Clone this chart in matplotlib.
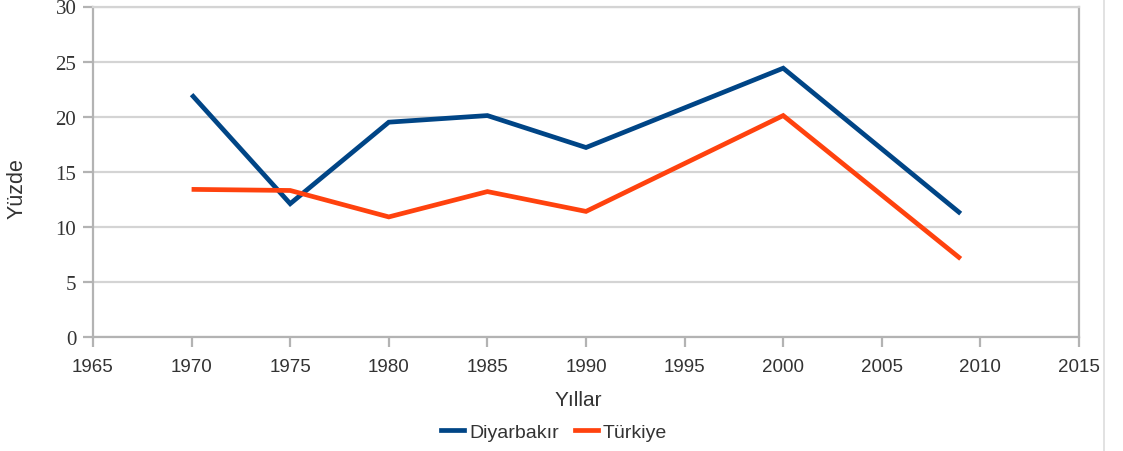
import numpy as np
import matplotlib
matplotlib.use('Agg')
import matplotlib.pyplot as plt
from matplotlib.lines import Line2D

years_diy = [1970, 1975, 1980, 1985, 1990, 2000, 2009]
diyarbakir = [22.0, 12.1, 19.5, 20.1, 17.2, 24.4, 11.2]
years_tr = [1970, 1975, 1980, 1985, 1990, 2000, 2009]
turkiye = [13.4, 13.3, 10.9, 13.2, 11.4, 20.1, 7.1]

x_ticks = list(range(1965, 2016, 5))
y_ticks = list(range(0, 31, 5))

BLUE = '#004586'
ORANGE = '#ff420e'
GRID = '#d4d4d4'
AXIS = '#b3b3b3'
TEXT = '#333333'

fig = plt.figure(figsize=(11.23, 4.52), dpi=100)
ax = fig.add_axes([93/1123, 1 - 338/452, (1079 - 93)/1123, (338 - 7.5)/452])

ax.plot(years_diy, diyarbakir, color=BLUE, lw=3.4, label='Diyarbakır',
        solid_joinstyle='miter', solid_capstyle='butt')
ax.plot(years_tr, turkiye, color=ORANGE, lw=3.4, label='Türkiye',
        solid_joinstyle='miter', solid_capstyle='butt')

ax.set_xlim(1965, 2015)
ax.set_ylim(0, 30)
ax.set_xticks(x_ticks)
ax.set_yticks(y_ticks)
ax.yaxis.grid(True, color=GRID, lw=1.6)
ax.set_axisbelow(True)

for s in ax.spines.values():
    s.set_color(AXIS)
    s.set_linewidth(1.6)
ax.spines['top'].set_color(GRID)

ax.tick_params(axis='both', color=AXIS, width=1.6, length=7, direction='out')
ax.tick_params(axis='x', labelsize=13.5, labelcolor=TEXT, pad=8)
ax.tick_params(axis='y', labelsize=15, labelcolor=TEXT, pad=5)
for lab in ax.get_xticklabels():
    lab.set_family('Liberation Sans')
for lab in ax.get_yticklabels():
    lab.set_family('Liberation Serif')

fig.text(578/1123, 1 - 400/452, 'Yıllar', family='Liberation Sans', fontsize=15,
         color=TEXT, ha='center', va='center')
fig.text(17/1123, 1 - 189/452, 'Yüzde', family='Liberation Sans', fontsize=15.5,
         color=TEXT, ha='center', va='center', rotation=90)

handles = [Line2D([], [], color=BLUE, lw=3.4), Line2D([], [], color=ORANGE, lw=3.4)]
fig.legend(handles, ['Diyarbakır', 'Türkiye'], loc='center',
           bbox_to_anchor=(554/1123, 1 - 433/452), ncol=2, frameon=False,
           handlelength=1.2, handletextpad=0.25, columnspacing=0.8,
           prop={'family': 'Liberation Sans', 'size': 14})
for t in fig.legends[0].get_texts():
    t.set_color(TEXT)

# page border on the right
fig.add_artist(Line2D([1104/1123, 1104/1123], [0, 1], transform=fig.transFigure,
                      color='#dddddd', lw=1.2))

fig.savefig('out.png', dpi=100)
